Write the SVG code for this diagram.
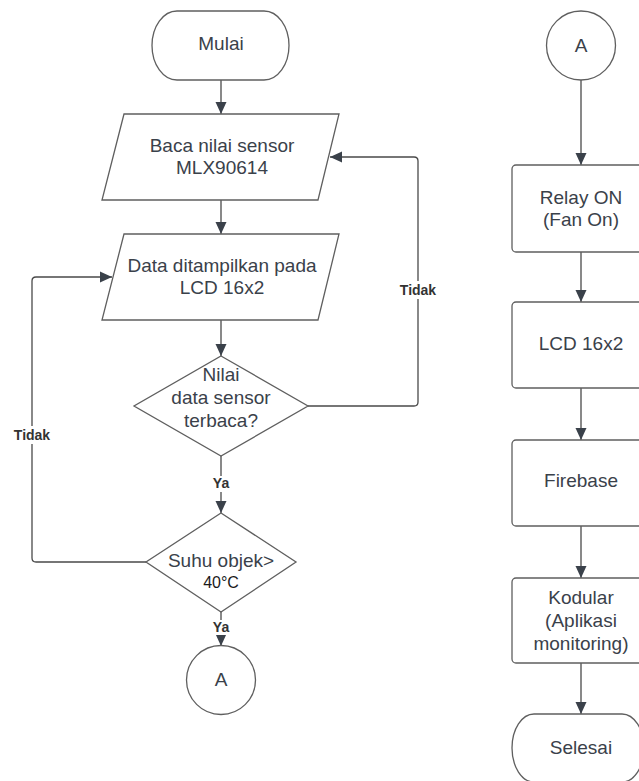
<svg xmlns="http://www.w3.org/2000/svg" width="639" height="781" viewBox="0 0 639 781">
<defs>
<style>
.shape{fill:#ffffff;stroke:#5f5f5f;stroke-width:1.3}
.conn{fill:none;stroke:#4a4a4a;stroke-width:1.3}
.t{font-family:"Liberation Sans",Arial,sans-serif;font-size:19px;fill:#3a414a;text-anchor:middle}
.s{font-family:"Liberation Sans",Arial,sans-serif;font-size:16px;fill:#1a1a1a;text-anchor:middle}
.lbl{font-family:"Liberation Sans",Arial,sans-serif;font-size:14px;font-weight:bold;fill:#333333;text-anchor:middle}
.bg{fill:#ffffff;stroke:none}
</style>
<marker id="arr" markerUnits="userSpaceOnUse" markerWidth="12" markerHeight="12" viewBox="0 0 12 12" refX="12" refY="6" orient="auto">
<path d="M0,0.5 L12,6 L0,11.5 Z" fill="#3a414a"/>
</marker>
</defs>
<rect width="639" height="781" fill="#ffffff"/>

<g id="connectors">
<path class="conn" d="M221 80 V114" marker-end="url(#arr)"/>
<path class="conn" d="M221 200 V234" marker-end="url(#arr)"/>
<path class="conn" d="M221 320 V356" marker-end="url(#arr)"/>
<path class="conn" d="M308 406 H414 Q418 406 418 402 V161 Q418 157 414 157 H330" marker-end="url(#arr)"/>
<path class="conn" d="M221 456 V513" marker-end="url(#arr)"/>
<path class="conn" d="M146 562 H36 Q32 562 32 558 V281 Q32 277 36 277 H112" marker-end="url(#arr)"/>
<path class="conn" d="M221 612 V646" marker-end="url(#arr)"/>
<path class="conn" d="M581 80 V165" marker-end="url(#arr)"/>
<path class="conn" d="M581 252 V302" marker-end="url(#arr)"/>
<path class="conn" d="M581 388 V440" marker-end="url(#arr)"/>
<path class="conn" d="M581 526 V578" marker-end="url(#arr)"/>
<path class="conn" d="M581 663 V714" marker-end="url(#arr)"/>
<rect class="bg" x="398" y="281" width="40" height="18"/>
<text class="lbl" x="418" y="295">Tidak</text>
<rect class="bg" x="12" y="426" width="40" height="18"/>
<text class="lbl" x="32" y="440">Tidak</text>
<rect class="bg" x="211" y="476" width="20" height="16"/>
<text class="lbl" x="221" y="488">Ya</text>
<rect class="bg" x="211" y="620" width="20" height="15"/>
<text class="lbl" x="221" y="632">Ya</text>
</g>

<g id="mulai">
<rect class="shape" x="152" y="11" width="137" height="69" rx="25" ry="34.5"/>
<text class="t" x="221" y="50">Mulai</text>
</g>

<g id="baca-sensor">
<path class="shape" d="M124 114 H339 L318 200 H102 Z"/>
<text class="t" x="222" y="152">Baca nilai sensor</text>
<text class="t" x="222" y="174">MLX90614</text>
</g>

<g id="tampil-lcd">
<path class="shape" d="M124 234 H339 L318 320 H102 Z"/>
<text class="t" x="222" y="272">Data ditampilkan pada</text>
<text class="t" x="222" y="294">LCD 16x2</text>
</g>

<g id="cek-sensor">
<path class="shape" d="M221 356 L308 406 L221 456 L134 406 Z"/>
<text class="t" x="221" y="381">Nilai</text>
<text class="t" x="221" y="404">data sensor</text>
<text class="t" x="221" y="427">terbaca?</text>
</g>

<g id="cek-suhu">
<path class="shape" d="M221 513 L296 562 L221 612 L146 562 Z"/>
<text class="t" x="221" y="567">Suhu objek&gt;</text>
<text class="s" x="221" y="588">40°C</text>
</g>

<g id="konektor-a1">
<circle class="shape" cx="221" cy="680" r="34.5"/>
<text class="t" x="221" y="686">A</text>
</g>

<g id="konektor-a2">
<circle class="shape" cx="581" cy="45.5" r="34.5"/>
<text class="t" x="581" y="52">A</text>
</g>

<g id="relay">
<rect class="shape" x="512" y="165" width="138" height="87" rx="4"/>
<text class="t" x="581" y="204">Relay ON</text>
<text class="t" x="581" y="226">(Fan On)</text>
</g>

<g id="lcd">
<rect class="shape" x="512" y="302" width="138" height="86" rx="4"/>
<text class="t" x="581" y="350">LCD 16x2</text>
</g>

<g id="firebase">
<rect class="shape" x="512" y="440" width="138" height="86" rx="4"/>
<text class="t" x="581" y="487">Firebase</text>
</g>

<g id="kodular">
<rect class="shape" x="512" y="578" width="138" height="85" rx="4"/>
<text class="t" x="581" y="604">Kodular</text>
<text class="t" x="581" y="627">(Aplikasi</text>
<text class="t" x="581" y="650">monitoring)</text>
</g>

<g id="selesai">
<rect class="shape" x="512" y="714" width="132" height="68" rx="22" ry="34"/>
<text class="t" x="581" y="754">Selesai</text>
</g>
</svg>
